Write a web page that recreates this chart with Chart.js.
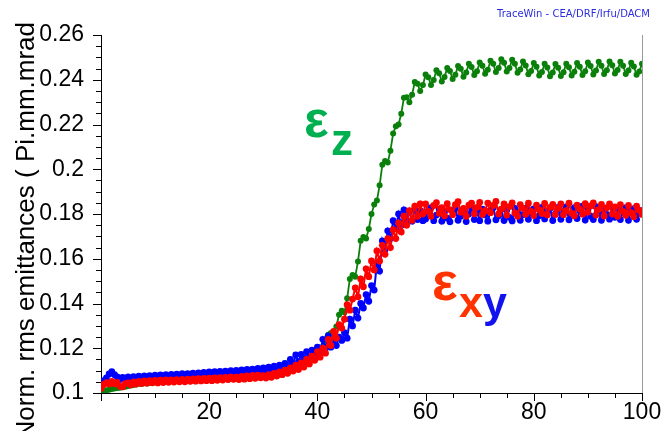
<!DOCTYPE html>
<html>
<head>
<meta charset="utf-8">
<script src="https://cdn.jsdelivr.net/npm/chart.js@4.4.1/dist/chart.umd.min.js"></script>
<style>
  html, body { margin: 0; padding: 0; background: #fff; }
  #wrap { width: 662px; height: 431px; }
</style>
</head>
<body>
<div id="wrap"><canvas id="c" width="662" height="431"></canvas></div>
<script>
// Position along the line (cell number)
const positions = [
  0, 0.5, 1, 1.5, 2, 2.5, 3, 3.5, 4, 4.5,
  5, 5.5, 6, 6.5, 7, 7.5, 8, 8.5, 9, 9.5,
  10, 10.5, 11, 11.5, 12, 12.5, 13, 13.5, 14, 14.5,
  15, 15.5, 16, 16.5, 17, 17.5, 18, 18.5, 19, 19.5,
  20, 20.5, 21, 21.5, 22, 22.5, 23, 23.5, 24, 24.5,
  25, 25.5, 26, 26.5, 27, 27.5, 28, 28.5, 29, 29.5,
  30, 30.5, 31, 31.5, 32, 32.5, 33, 33.5, 34, 34.5,
  35, 35.5, 36, 36.5, 37, 37.5, 38, 38.5, 39, 39.5,
  40, 40.5, 41, 41.5, 42, 42.5, 43, 43.5, 44, 44.5,
  45, 45.5, 46, 46.5, 47, 47.5, 48, 48.5, 49, 49.5,
  50, 50.5, 51, 51.5, 52, 52.5, 53, 53.5, 54, 54.5,
  55, 55.5, 56, 56.5, 57, 57.5, 58, 58.5, 59, 59.5,
  60, 60.5, 61, 61.5, 62, 62.5, 63, 63.5, 64, 64.5,
  65, 65.5, 66, 66.5, 67, 67.5, 68, 68.5, 69, 69.5,
  70, 70.5, 71, 71.5, 72, 72.5, 73, 73.5, 74, 74.5,
  75, 75.5, 76, 76.5, 77, 77.5, 78, 78.5, 79, 79.5,
  80, 80.5, 81, 81.5, 82, 82.5, 83, 83.5, 84, 84.5,
  85, 85.5, 86, 86.5, 87, 87.5, 88, 88.5, 89, 89.5,
  90, 90.5, 91, 91.5, 92, 92.5, 93, 93.5, 94, 94.5,
  95, 95.5, 96, 96.5, 97, 97.5, 98, 98.5, 99, 99.5,
  100
];

// Longitudinal rms emittance (Pi.mm.mrad)
const emitZ = [
  0.1000, 0.1008, 0.1012, 0.1015, 0.1018, 0.1020, 0.1022, 0.1024, 0.1026, 0.1028,
  0.1031, 0.1033, 0.1036, 0.1038, 0.1041, 0.1040, 0.1044, 0.1042, 0.1046, 0.1044,
  0.1049, 0.1046, 0.1051, 0.1048, 0.1052, 0.1049, 0.1053, 0.1050, 0.1054, 0.1051,
  0.1056, 0.1052, 0.1057, 0.1053, 0.1058, 0.1054, 0.1059, 0.1055, 0.1060, 0.1056,
  0.1061, 0.1057, 0.1062, 0.1058, 0.1063, 0.1059, 0.1064, 0.1060, 0.1066, 0.1061,
  0.1067, 0.1062, 0.1068, 0.1063, 0.1070, 0.1065, 0.1072, 0.1066, 0.1074, 0.1068,
  0.1076, 0.1070, 0.1079, 0.1073, 0.1083, 0.1077, 0.1088, 0.1082, 0.1094, 0.1088,
  0.1108, 0.1102, 0.1116, 0.1109, 0.1126, 0.1118, 0.1138, 0.1128, 0.1163, 0.1153,
  0.1200, 0.1203, 0.1190, 0.1217, 0.1260, 0.1268, 0.1260, 0.1297, 0.1350, 0.1368,
  0.1360, 0.1423, 0.1510, 0.1527, 0.1520, 0.1588, 0.1680, 0.1697, 0.1690, 0.1733,
  0.1800, 0.1842, 0.1860, 0.1928, 0.2020, 0.2037, 0.2030, 0.2083, 0.2160, 0.2192,
  0.2200, 0.2248, 0.2320, 0.2322, 0.2300, 0.2333, 0.2390, 0.2382, 0.2350, 0.2376,
  0.2423, 0.2411, 0.2377, 0.2399, 0.2443, 0.2429, 0.2392, 0.2412, 0.2453, 0.2439,
  0.2403, 0.2422, 0.2462, 0.2449, 0.2413, 0.2432, 0.2472, 0.2457, 0.2421, 0.2438,
  0.2477, 0.2463, 0.2427, 0.2445, 0.2485, 0.2471, 0.2435, 0.2452, 0.2492, 0.2476,
  0.2437, 0.2452, 0.2489, 0.2471, 0.2431, 0.2446, 0.2482, 0.2464, 0.2425, 0.2439,
  0.2475, 0.2458, 0.2419, 0.2435, 0.2471, 0.2455, 0.2416, 0.2432, 0.2470, 0.2454,
  0.2417, 0.2434, 0.2472, 0.2456, 0.2419, 0.2436, 0.2475, 0.2458, 0.2421, 0.2438,
  0.2477, 0.2461, 0.2424, 0.2441, 0.2480, 0.2463, 0.2426, 0.2443, 0.2482, 0.2465,
  0.2428, 0.2444, 0.2480, 0.2463, 0.2426, 0.2441, 0.2476, 0.2459, 0.2422, 0.2437,
  0.2472
];

// Horizontal rms emittance (Pi.mm.mrad)
const emitX = [
  0.1020, 0.1038, 0.1046, 0.1040, 0.1052, 0.1041, 0.1047, 0.1030, 0.1028, 0.1042,
  0.1045, 0.1036, 0.1050, 0.1040, 0.1052, 0.1043, 0.1054, 0.1044, 0.1055, 0.1046,
  0.1056, 0.1045, 0.1057, 0.1047, 0.1058, 0.1048, 0.1059, 0.1049, 0.1060, 0.1050,
  0.1061, 0.1050, 0.1062, 0.1052, 0.1063, 0.1053, 0.1064, 0.1054, 0.1065, 0.1055,
  0.1066, 0.1055, 0.1067, 0.1057, 0.1069, 0.1058, 0.1070, 0.1060, 0.1072, 0.1061,
  0.1071, 0.1060, 0.1074, 0.1062, 0.1076, 0.1064, 0.1079, 0.1066, 0.1080, 0.1068,
  0.1078, 0.1067, 0.1082, 0.1070, 0.1088, 0.1076, 0.1094, 0.1082, 0.1102, 0.1088,
  0.1112, 0.1098, 0.1124, 0.1105, 0.1134, 0.1116, 0.1150, 0.1130, 0.1165, 0.1146,
  0.1185, 0.1160, 0.1200, 0.1178, 0.1240, 0.1212, 0.1275, 0.1245, 0.1305, 0.1290,
  0.1330, 0.1395, 0.1370, 0.1420, 0.1470, 0.1430, 0.1510, 0.1475, 0.1555, 0.1520,
  0.1590, 0.1550, 0.1635, 0.1590, 0.1660, 0.1620, 0.1690, 0.1650, 0.1730, 0.1690,
  0.1760, 0.1720, 0.1790, 0.1750, 0.1815, 0.1772, 0.1835, 0.1790, 0.1845, 0.1800,
  0.1845, 0.1812, 0.1790, 0.1838, 0.1851, 0.1803, 0.1828, 0.1792, 0.1846, 0.1820,
  0.1797, 0.1842, 0.1855, 0.1808, 0.1825, 0.1790, 0.1840, 0.1848, 0.1801, 0.1830,
  0.1852, 0.1798, 0.1815, 0.1849, 0.1806, 0.1838, 0.1856, 0.1800, 0.1822, 0.1845,
  0.1795, 0.1833, 0.1850, 0.1805, 0.1790, 0.1842, 0.1826, 0.1799, 0.1848, 0.1812,
  0.1793, 0.1840, 0.1818, 0.1802, 0.1847, 0.1796, 0.1830, 0.1843, 0.1798, 0.1825,
  0.1845, 0.1797, 0.1815, 0.1848, 0.1803, 0.1792, 0.1840, 0.1822, 0.1799, 0.1846,
  0.1808, 0.1836, 0.1850, 0.1795, 0.1820, 0.1843, 0.1791, 0.1828, 0.1845, 0.1800,
  0.1832, 0.1790, 0.1842, 0.1812, 0.1794, 0.1838, 0.1806, 0.1788, 0.1835, 0.1816,
  0.1798
];

// Vertical rms emittance (Pi.mm.mrad)
const emitY = [
  0.1030, 0.1055, 0.1068, 0.1085, 0.1095, 0.1082, 0.1072, 0.1060, 0.1070, 0.1062,
  0.1072, 0.1063, 0.1073, 0.1064, 0.1075, 0.1065, 0.1076, 0.1066, 0.1077, 0.1068,
  0.1080, 0.1069, 0.1081, 0.1070, 0.1082, 0.1071, 0.1083, 0.1072, 0.1084, 0.1073,
  0.1086, 0.1074, 0.1087, 0.1076, 0.1089, 0.1077, 0.1090, 0.1079, 0.1092, 0.1080,
  0.1094, 0.1082, 0.1095, 0.1083, 0.1097, 0.1085, 0.1098, 0.1086, 0.1100, 0.1088,
  0.1101, 0.1089, 0.1103, 0.1091, 0.1105, 0.1093, 0.1107, 0.1095, 0.1110, 0.1097,
  0.1112, 0.1099, 0.1116, 0.1102, 0.1120, 0.1106, 0.1125, 0.1110, 0.1132, 0.1115,
  0.1150, 0.1128, 0.1170, 0.1140, 0.1172, 0.1152, 0.1185, 0.1160, 0.1192, 0.1172,
  0.1205, 0.1180, 0.1240, 0.1200, 0.1255, 0.1205, 0.1235, 0.1212, 0.1250, 0.1235,
  0.1270, 0.1245, 0.1330, 0.1300, 0.1370, 0.1335, 0.1400, 0.1380, 0.1440, 0.1410,
  0.1480, 0.1460, 0.1580, 0.1545, 0.1680, 0.1640, 0.1725, 0.1690, 0.1770, 0.1735,
  0.1800, 0.1750, 0.1818, 0.1772, 0.1810, 0.1768, 0.1822, 0.1775, 0.1815, 0.1770,
  0.1778, 0.1815, 0.1828, 0.1770, 0.1795, 0.1822, 0.1768, 0.1810, 0.1782, 0.1765,
  0.1812, 0.1825, 0.1772, 0.1790, 0.1818, 0.1766, 0.1800, 0.1827, 0.1775, 0.1808,
  0.1770, 0.1822, 0.1796, 0.1768, 0.1815, 0.1828, 0.1774, 0.1792, 0.1820, 0.1771,
  0.1818, 0.1785, 0.1769, 0.1825, 0.1808, 0.1772, 0.1797, 0.1826, 0.1776, 0.1805,
  0.1823, 0.1770, 0.1792, 0.1829, 0.1778, 0.1812, 0.1825, 0.1771, 0.1800, 0.1830,
  0.1776, 0.1808, 0.1832, 0.1774, 0.1795, 0.1828, 0.1780, 0.1815, 0.1835, 0.1773,
  0.1820, 0.1790, 0.1775, 0.1833, 0.1806, 0.1772, 0.1826, 0.1798, 0.1777, 0.1830,
  0.1785, 0.1822, 0.1775, 0.1810, 0.1828, 0.1772, 0.1818, 0.1824, 0.1776, 0.1803,
  0.1815
];

const yAxisTitle = 'Norm. rms emittances ( Pi.mm.mrad';
const creditText = 'TraceWin - CEA/DRF/Irfu/DACM';

const AXIS_FONT = '"Liberation Sans", Arial, sans-serif';

function toPoints(ys) {
  return positions.map((x, i) => ({ x: x, y: ys[i] }));
}

function isMultiple(v, step) {
  return Math.abs(Math.round(v / step) * step - v) < 1e-9;
}

// Tick marks (long on labelled values, short between), right frame line,
// rotated y title, curve labels and the credit line
const decorations = {
  id: 'decorations',
  afterDraw(chart) {
    const { ctx, chartArea: a, scales } = chart;
    const xs = scales.x, ys = scales.y;
    ctx.save();

    ctx.strokeStyle = '#9a9a9a';
    ctx.lineWidth = 1;
    ctx.beginPath();
    ctx.moveTo(a.right + 0.5, a.top);
    ctx.lineTo(a.right + 0.5, a.bottom);
    ctx.stroke();

    ctx.strokeStyle = '#000';
    ctx.beginPath();
    ys.ticks.forEach(t => {
      const p = Math.round(ys.getPixelForValue(t.value)) + 0.5;
      const len = isMultiple(t.value, 0.02) ? 8 : 5;
      ctx.moveTo(a.left - len, p);
      ctx.lineTo(a.left, p);
    });
    xs.ticks.forEach(t => {
      const p = Math.round(xs.getPixelForValue(t.value)) + 0.5;
      const len = isMultiple(t.value, 20) ? 8 : 5;
      ctx.moveTo(p, a.bottom);
      ctx.lineTo(p, a.bottom + len);
    });
    ctx.stroke();

    // y title, reading upward
    ctx.save();
    ctx.translate(34, 22);
    ctx.rotate(-Math.PI / 2);
    ctx.fillStyle = '#000';
    ctx.font = '26px ' + AXIS_FONT;
    ctx.textAlign = 'right';
    ctx.textBaseline = 'alphabetic';
    ctx.fillText(yAxisTitle, 0, 0);
    ctx.restore();

    // curve labels
    ctx.textAlign = 'left';
    ctx.textBaseline = 'alphabetic';
    ctx.font = 'bold 52px ' + AXIS_FONT;
    ctx.fillStyle = '#00b050';
    ctx.fillText('\u03b5', 304, 137);
    ctx.font = 'bold 44px ' + AXIS_FONT;
    ctx.fillText('z', 331, 155);

    ctx.font = 'bold 54px ' + AXIS_FONT;
    ctx.fillStyle = '#ff3300';
    ctx.fillText('\u03b5', 432, 300);
    ctx.font = 'bold 43px ' + AXIS_FONT;
    ctx.fillText('x', 459, 317);
    ctx.fillStyle = '#1212ee';
    ctx.fillText('y', 483, 317);

    // credit
    ctx.font = '11px "DejaVu Sans", Verdana, sans-serif';
    ctx.fillStyle = '#2b2be0';
    ctx.fillText(creditText, 497, 17, 153);

    ctx.restore();
  }
};

function seriesStyle(color, radius, width) {
  return {
    borderColor: color,
    backgroundColor: color,
    pointBackgroundColor: color,
    pointBorderColor: color,
    borderWidth: width,
    pointRadius: radius,
    pointBorderWidth: 0,
    pointHoverRadius: radius,
    tension: 0
  };
}

// Chart.js paints the first dataset last, so εx ends up on top and εz underneath
new Chart(document.getElementById('c'), {
  type: 'line',
  data: {
    datasets: [
      Object.assign({ label: 'εx', data: toPoints(emitX) }, seriesStyle('#ff0000', 3.4, 2)),
      Object.assign({ label: 'εy', data: toPoints(emitY) }, seriesStyle('#0000ff', 3.4, 2)),
      Object.assign({ label: 'εz', data: toPoints(emitZ) }, seriesStyle('#0a800a', 3, 1.8))
    ]
  },
  options: {
    responsive: false,
    animation: false,
    devicePixelRatio: 1,
    layout: { padding: { top: 35, right: 20, left: 0, bottom: 0 } },
    plugins: {
      legend: { display: false },
      tooltip: { enabled: false },
      title: { display: false }
    },
    scales: {
      x: {
        type: 'linear',
        min: 0,
        max: 100,
        afterFit(scale) {
          scale.height = 38;
          scale.paddingRight = 0;
          scale.paddingLeft = 0;
        },
        grid: { display: false, drawTicks: false },
        border: { display: true, color: '#000', width: 1 },
        ticks: {
          stepSize: 5,
          autoSkip: false,
          maxRotation: 0,
          padding: 6,
          color: '#000',
          font: { family: AXIS_FONT, size: 23 },
          callback: v => (v !== 0 && isMultiple(v, 20)) ? String(v) : ''
        }
      },
      y: {
        min: 0.1,
        max: 0.26,
        afterFit(scale) { scale.width = 101; },
        grid: { display: false, drawTicks: false },
        border: { display: true, color: '#000', width: 1 },
        ticks: {
          stepSize: 0.005,
          autoSkip: false,
          padding: 17,
          color: '#000',
          font: { family: AXIS_FONT, size: 23 },
          callback: v => isMultiple(v, 0.02) ? String(Math.round(v * 100) / 100) : ''
        }
      }
    }
  },
  plugins: [decorations]
});
</script>
</body>
</html>
